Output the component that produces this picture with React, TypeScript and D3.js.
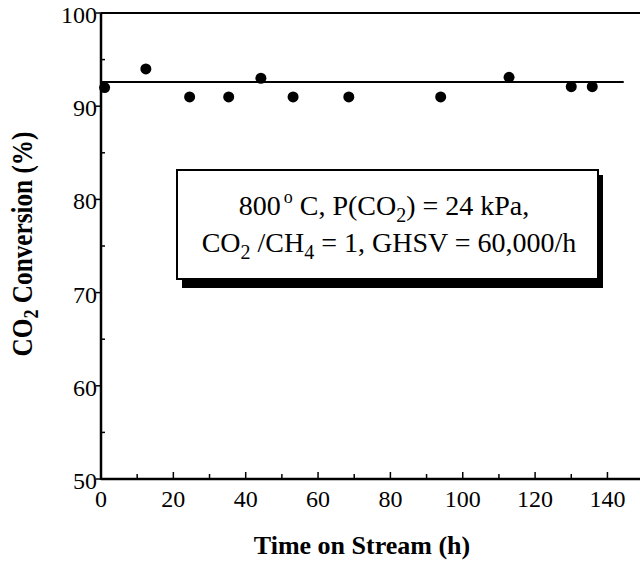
import React from "react";
import * as d3 from "d3";

const timeH = [1, 12.4, 24.5, 35.3, 44.2, 53.1, 68.5, 93.9, 112.8, 130, 135.8];
const conversion = [92, 94, 91, 91, 93, 91, 91, 91, 93.1, 92.1, 92.1];
const fitLevel = 92.6;
const fitRange = [0, 144.5];
const xTicks = [0, 20, 40, 60, 80, 100, 120, 140];
const xMinor = [10, 30, 50, 70, 90, 110, 130];
const yTicks = [50, 60, 70, 80, 90, 100];
const yMinor = [55, 65, 75, 85, 95];

const W = 642;
const H = 569;
const serif = "'Liberation Serif', 'Times New Roman', serif";

export default function App() {
  const x = d3.scaleLinear().domain([0, 149]).range([101, 640]);
  const y = d3.scaleLinear().domain([50, 100]).range([479, 13]);
  const line = d3.line<number>().x((d) => x(d)).y(() => y(fitLevel));

  const bx = 177, by = 170, bw = 421, bh = 109;

  return (
    <svg width={W} height={H} style={{ position: "absolute", left: 0, top: 0, background: "#fff" }} fontFamily={serif}>
      <rect x={0} y={0} width={W} height={H} fill="#fff" />
      {/* axes */}
      <line x1={x(0)} x2={x(0)} y1={y(100)} y2={y(50) + 1} stroke="#000" strokeWidth={2.5} />
      <line x1={x(0)} x2={x(149)} y1={y(50)} y2={y(50)} stroke="#000" strokeWidth={2.5} />
      <line x1={x(0)} x2={x(149)} y1={y(100)} y2={y(100)} stroke="#000" strokeWidth={2} />
      {yTicks.map((t) => (
        <g key={"y" + t}>
          <line x1={x(0) - 5} x2={x(0)} y1={y(t)} y2={y(t)} stroke="#000" strokeWidth={1.5} />
          <text x={x(0) - 4} y={y(t) + 10} textAnchor="end" fontSize={24}>{t}</text>
        </g>
      ))}
      {yMinor.map((t) => (
        <line key={"ym" + t} x1={x(0)} x2={x(0) + 4} y1={y(t)} y2={y(t)} stroke="#000" strokeWidth={1.5} />
      ))}
      {xTicks.map((t) => (
        <g key={"x" + t}>
          <line x1={x(t)} x2={x(t)} y1={y(50)} y2={y(50) - 7} stroke="#000" strokeWidth={1.5} />
          <text x={x(t)} y={y(50) + 28} textAnchor="middle" fontSize={24}>{t}</text>
        </g>
      ))}
      {xMinor.map((t) => (
        <line key={"xm" + t} x1={x(t)} x2={x(t)} y1={y(50)} y2={y(50) - 5} stroke="#000" strokeWidth={1.5} />
      ))}
      {/* fit line */}
      <path d={line(fitRange) || ""} stroke="#000" strokeWidth={2} fill="none" />
      {/* points */}
      {timeH.map((t, i) => (
        <circle key={i} cx={x(t)} cy={y(conversion[i])} r={5.5} fill="#000" />
      ))}
      {/* annotation box */}
      <rect x={bx + 5} y={by + 5} width={bw} height={bh + 4} fill="#000" />
      <rect x={bx} y={by} width={bw} height={bh} fill="#fff" stroke="#000" strokeWidth={2} />
      <text x={384} y={215} textAnchor="middle" fontSize={28}>
        800<tspan dx={3} dy={-12} fontSize={18}>o</tspan>
        <tspan dy={12}> C, P(CO</tspan>
        <tspan dy={7} fontSize={20}>2</tspan>
        <tspan dy={-7}>) = 24 kPa,</tspan>
      </text>
      <text x={389} y={252} textAnchor="middle" fontSize={28}>
        CO<tspan dy={7} fontSize={20}>2</tspan>
        <tspan dy={-7}> /CH</tspan>
        <tspan dy={7} fontSize={20}>4</tspan>
        <tspan dy={-7}>{"  = 1, GHSV = 60,000/h"}</tspan>
      </text>
      {/* axis titles */}
      <text x={362} y={554} textAnchor="middle" fontSize={26} fontWeight="bold">Time on Stream (h)</text>
      <text transform={`translate(32,244) scale(1,0.87) rotate(-90)`} textAnchor="middle" fontSize={29} fontWeight="bold">
        CO<tspan dy={6} fontSize={21}>2</tspan>
        <tspan dy={-6}> Conversion (%)</tspan>
      </text>
    </svg>
  );
}
